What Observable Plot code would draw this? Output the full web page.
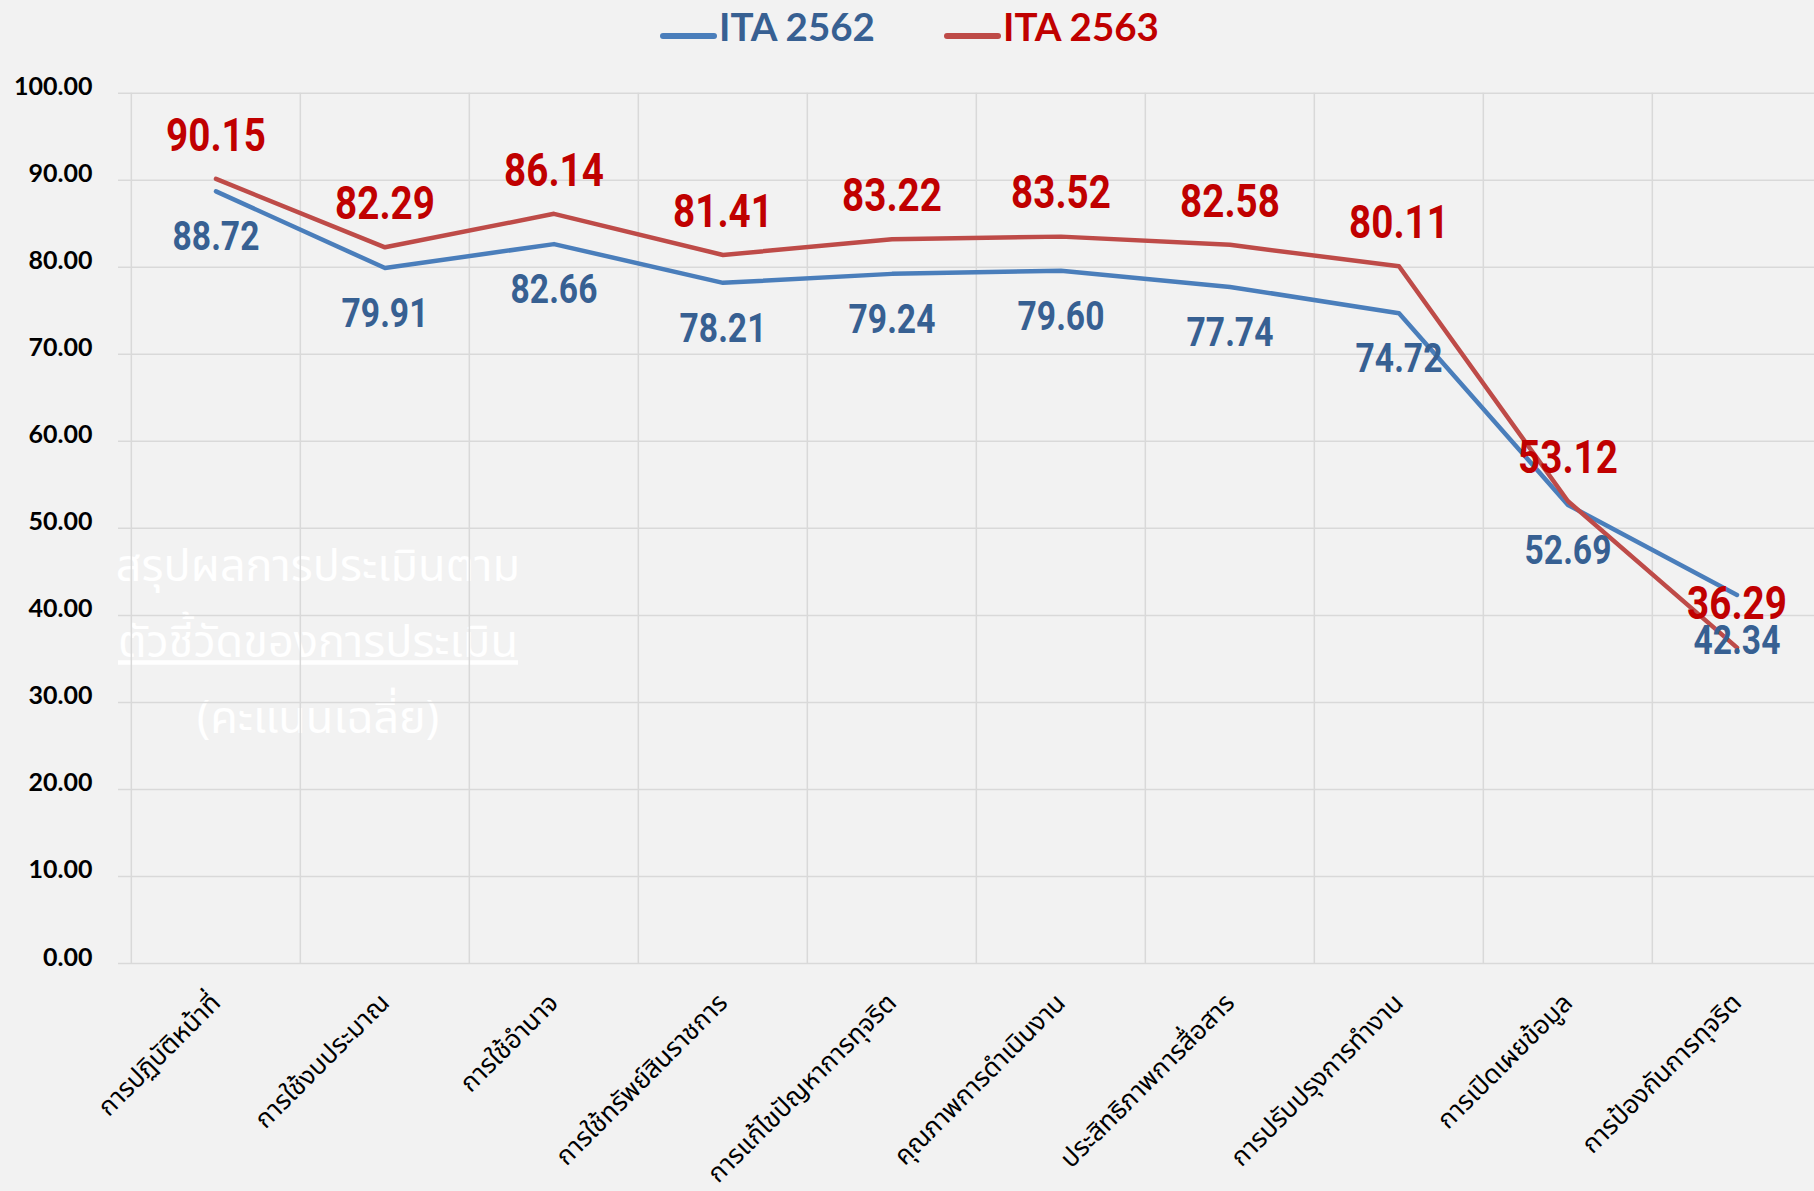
<!DOCTYPE html>
<html><head><meta charset="utf-8">
<script src="https://cdn.jsdelivr.net/npm/d3@7"></script>
<script src="https://cdn.jsdelivr.net/npm/@observablehq/plot@0.6"></script>
<style>
html,body{margin:0;padding:0;background:#f2f2f2;}
#legend{position:relative;width:1814px;height:60px;font-family:Lato,"Open Sans",sans-serif;font-weight:700;font-size:38.5px;}
.item{position:absolute;top:0;height:60px;}
.sw{position:absolute;top:33px;left:0;width:57px;height:6px;border-radius:3px;}
.lab{position:absolute;top:7px;left:59px;line-height:1;white-space:nowrap;}
#chart svg{display:block;}
</style></head><body>
<div id="legend"></div>
<div id="chart"></div>
<script>
const categories = [
  "การปฏิบัติหน้าที่",
  "การใช้งบประมาณ",
  "การใช้อำนาจ",
  "การใช้ทรัพย์สินราชการ",
  "การแก้ไขปัญหาการทุจริต",
  "คุณภาพการดำเนินงาน",
  "ประสิทธิภาพการสื่อสาร",
  "การปรับปรุงการทำงาน",
  "การเปิดเผยข้อมูล",
  "การป้องกันการทุจริต"
];
const ita2562 = [88.72, 79.91, 82.66, 78.21, 79.24, 79.60, 77.74, 74.72, 52.69, 42.34];
const ita2563 = [90.15, 82.29, 86.14, 81.41, 83.22, 83.52, 82.58, 80.11, 53.12, 36.29];
const seriesNames = ["ITA 2562", "ITA 2563"];
const yTicks = [0, 10, 20, 30, 40, 50, 60, 70, 80, 90, 100];
const watermarkLines = ["สรุปผลการประเมินตาม", "ตัวชี้วัดของการประเมิน", "(คะแนนเฉลี่ย)"];

const lineColors = ["#4a7ebb", "#be4b48"];
const textColors = ["#376092", "#c00000"];

// Legend
const legend = document.getElementById("legend");
const legendLefts = [660, 944];
seriesNames.forEach((name, i) => {
  const it = document.createElement("div");
  it.className = "item";
  it.style.left = legendLefts[i] + "px";
  it.innerHTML = `<div class="sw" style="background:${lineColors[i]}"></div><span class="lab" style="color:${textColors[i]}">${name}</span>`;
  legend.appendChild(it);
});

const W = 1814, H = 1131;
const xRange = [129.5, 1823];
const bw = (xRange[1] - xRange[0]) / categories.length;
const rows2562 = categories.map((c, i) => ({cat: c, v: ita2562[i]}));
const rows2563 = categories.map((c, i) => ({cat: c, v: ita2563[i]}));
const numFont = "'Liberation Sans Narrow', 'Arial Narrow', 'Roboto', sans-serif";
const thaiFont = "Tahoma, 'Noto Sans Thai', 'Noto Sans', sans-serif";

const chart = Plot.plot({
  width: W, height: H,
  marginLeft: 118, marginRight: 0, marginTop: 32.7, marginBottom: H - 903,
  style: {background: "#f2f2f2", overflow: "hidden", fontFamily: "Lato, sans-serif"},
  x: {type: "band", domain: categories, range: xRange, padding: 0, axis: null},
  y: {domain: [0, 100], label: null},
  marks: [
    Plot.text([watermarkLines.join("\n")], {
      text: d => d, frameAnchor: "top-left", dx: 317.5 - 118, dy: 434,
      textAnchor: "middle", lineAnchor: "top", lineHeight: 1.69,
      fill: "#ffffff", fontSize: 45, fontFamily: thaiFont
    }),
    Plot.gridY(yTicks, {stroke: "#d9d9d9", strokeOpacity: 1, strokeWidth: 1.5}),
    Plot.ruleX(categories, {x: d => d, dx: -bw / 2, y1: 0, y2: 100,
      stroke: "#d9d9d9", strokeWidth: 1.5}),
    Plot.axisY(yTicks, {label: null, tickSize: 0, tickPadding: 26, tickFormat: d => d.toFixed(2),
      fontSize: 25, fontWeight: 700, fill: "#000", dy: -6, fontFamily: "Lato, sans-serif"}),
    Plot.line(rows2562, {x: "cat", y: "v", stroke: lineColors[0], strokeWidth: 4.5}),
    Plot.line(rows2563, {x: "cat", y: "v", stroke: lineColors[1], strokeWidth: 4.5}),
    Plot.text(rows2562, {x: "cat", y: "v", text: d => d.v.toFixed(2), dy: 46,
      fill: textColors[0], fontSize: 40, fontWeight: 700, fontFamily: numFont}),
    Plot.text(rows2563, {x: "cat", y: "v", text: d => d.v.toFixed(2), dy: -43,
      fill: textColors[1], fontSize: 46, fontWeight: 700, fontFamily: numFont}),
    Plot.text(categories, {x: d => d, frameAnchor: "bottom", dy: 35, rotate: -45,
      textAnchor: "end", lineAnchor: "middle", fontSize: 26, fill: "#000", fontFamily: thaiFont})
  ]
});
document.getElementById("chart").appendChild(chart);
d3.select(chart).selectAll("tspan").filter(function() { return this.textContent === watermarkLines[1]; })
  .style("text-decoration", "underline");

// condense the value labels horizontally (narrow bold look), keeping each centred on its anchor
const valueTexts = new Set([...ita2562, ...ita2563].map(v => v.toFixed(2)));
d3.select(chart).selectAll("g[font-size='40'] text, g[font-size='46'] text")
  .filter(function() { return valueTexts.has(this.textContent); })
  .each(function() {
    const t = this.getAttribute("transform") || "";
    const b = this.getBBox();
    const cx = b.x + b.width / 2;
    this.setAttribute("transform", `${t} translate(${cx},0) scale(0.84,1) translate(${-cx},0)`);
  });
</script>
</body></html>
